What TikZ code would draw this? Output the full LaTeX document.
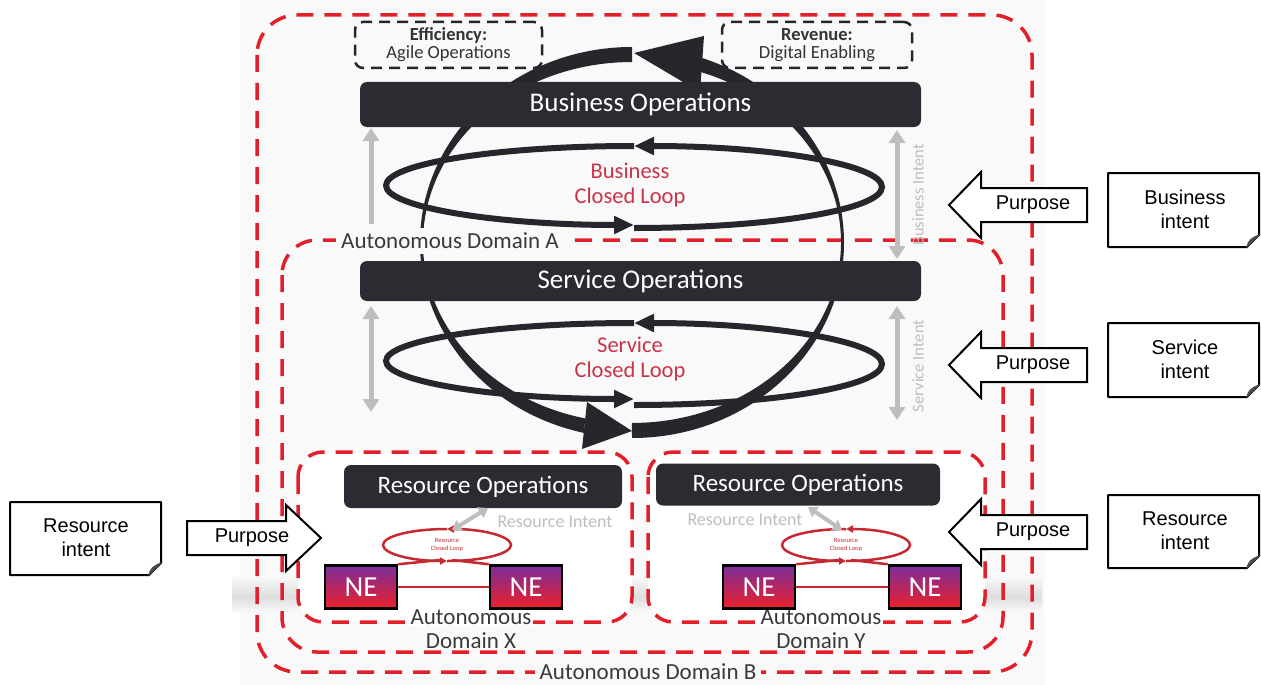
\documentclass[tikz,border=0pt]{standalone}
\usepackage{fontspec}
\setmainfont{Carlito}
\newfontfamily\arialf{Liberation Sans}
\usetikzlibrary{arrows.meta}
\definecolor{bgpanel}{HTML}{F9F9F9}
\definecolor{boxdark}{HTML}{2A2C31}
\definecolor{domred}{HTML}{E2202C}
\definecolor{looptext}{HTML}{C93449}
\definecolor{intgray}{HTML}{BEBEBE}
\definecolor{loopblack}{HTML}{25272C}
\definecolor{nepurple}{HTML}{7A2E9C}
\definecolor{nered}{HTML}{EE1F28}
\definecolor{rloop}{HTML}{C42A30}
\definecolor{labgray}{HTML}{3A3A3A}
\begin{document}
\begin{tikzpicture}[x=1pt,y=-1pt,
  domrect/.style={draw=domred, line width=3.5pt, dash pattern=on 17pt off 11pt, rounded corners=#1},
  goalbox/.style={draw=black!85, line width=2.5pt, dash pattern=on 11pt off 7pt, rounded corners=8pt, align=center, font=\fontsize{18.5}{18}\selectfont, text=black!80, inner sep=0pt},
  opbox/.style={fill=boxdark, rounded corners=7pt, text=white, inner sep=0pt},
  intarr/.style={draw=intgray, line width=5pt, -{Triangle[length=13pt,width=16pt]}},
  intarrd/.style={draw=intgray, line width=5pt, {Triangle[length=13pt,width=16pt]}-{Triangle[length=13pt,width=16pt]}},
  intarrs/.style={draw=intgray, line width=4pt, {Triangle[length=9pt,width=12pt]}-{Triangle[length=9pt,width=12pt]}},
  cloopline/.style={draw=loopblack, line width=6pt, -{Triangle[length=20pt,width=17pt]}},
  looplab/.style={text=looptext, align=center, font=\fontsize{22.5}{25}\selectfont},
  domlab/.style={text=labgray, font=\fontsize{23}{24}\selectfont, fill=bgpanel, inner sep=5pt},
  intlab/.style={text=intgray, font=\fontsize{16.5}{18}\selectfont},
  nebox/.style={draw=black, line width=2.5pt, top color=nepurple, bottom color=nered, text=white, font=\fontsize{29}{29}\selectfont, minimum width=72pt, minimum height=43pt, inner sep=0pt},
  rloopline/.style={draw=rloop, line width=2.5pt},
  rtip/.style={-{Triangle[length=7pt,width=7pt]}},
  notebox/.style={draw=black, line width=2pt, fill=white, line join=round},
  notetext/.style={font=\arialf\fontsize{20}{24}\selectfont, align=center},
  purp/.style={draw=black, line width=2pt, fill=white, line join=miter},
  purptext/.style={font=\arialf\fontsize{20}{22}\selectfont}
]
\useasboundingbox (0,0) rectangle (1261,685);
% panel
\fill[bgpanel] (240,0) rectangle (1045,685);
% soft shadow band under lower domains
\shade[top color=bgpanel, bottom color=black!13] (232,576) rectangle (1042,597);
\shade[top color=black!13, bottom color=bgpanel] (232,597) rectangle (1042,612);

% domain frames
\draw[domrect=40pt] (257,15) rectangle (1032,672);
\draw[domrect=35pt] (282,240) rectangle (1003,652);
\draw[domrect=25pt, fill=white] (298,452) rectangle (632,622);
\draw[domrect=25pt, fill=white] (648,452) rectangle (985,622);

% goal boxes
\node[goalbox, minimum width=187pt, minimum height=46pt] (eff) at (448.5,45) {\textbf{Efficiency:}\\Agile Operations};
\node[goalbox, minimum width=190pt, minimum height=46pt] (rev) at (817,45) {\textbf{Revenue:}\\Digital Enabling};

% operation boxes (positions)
\coordinate (boc) at (640.5,104.5);
\coordinate (soc) at (640.5,281);

% intent arrows (gray)
\coordinate (bl1) at (371,224); \coordinate (bl2) at (371,128);
\coordinate (br1) at (897,130); \coordinate (br2) at (897,259);
\coordinate (sl1) at (371,306); \coordinate (sl2) at (371,412);
\coordinate (sr1) at (897,306); \coordinate (sr2) at (897,420);
\draw[intarr] (bl1) -- (bl2);
\draw[intarrd] (br1) -- (br2);
\draw[intarrd] (sl1) -- (sl2);
\draw[intarrd] (sr1) -- (sr2);
\node[intlab, rotate=90] (bint) at (918,195) {Business Intent};
\node[intlab, rotate=90] (sint) at (918,366) {Service Intent};

% globe (big arcs)
\fill[loopblack] (632,47) arc[start angle=270, end angle=103, x radius=212, y radius=195.5]
  -- (585,418.4) arc[start angle=103, end angle=270, x radius=209, y radius=180.5] -- cycle;
\fill[loopblack] (632,431) -- (587,402) -- (582,449) -- cycle;
\fill[loopblack] (632,438) arc[start angle=90, end angle=-71, x radius=212, y radius=195.5]
  -- (700,71.8) arc[start angle=-71, end angle=90, x radius=209, y radius=180.5] -- cycle;
\fill[loopblack] (634,53) -- (704,36) -- (700,92) -- cycle;

% closed loops
\coordinate (bloopR) at (634,228);
\coordinate (bloopL) at (634,146);
\draw[cloopline] (bloopR) arc[start angle=90, end angle=-90, x radius=248, y radius=41];
\draw[cloopline] (bloopL) arc[start angle=270, end angle=90, x radius=248, y radius=39.5];
\coordinate (sloopR) at (634,405);
\coordinate (sloopL) at (634,323);
\draw[cloopline] (sloopR) arc[start angle=90, end angle=-90, x radius=248, y radius=41];
\draw[cloopline] (sloopL) arc[start angle=270, end angle=90, x radius=248, y radius=38];
\node[looplab] (blab) at (630,185) {Business\\Closed Loop};
\node[looplab] (slab) at (630,359) {Service\\Closed Loop};

% operation boxes
\node[opbox, minimum width=561pt, minimum height=45pt, font=\fontsize{27}{27}\selectfont] (bo) at (boc) {Business Operations};
\node[opbox, minimum width=561pt, minimum height=40pt, font=\fontsize{27}{27}\selectfont] (so) at (soc) {Service Operations};
\node[opbox, minimum width=278pt, minimum height=43pt, font=\fontsize{25}{25}\selectfont] (rox) at (483,486.5) {Resource Operations};
\node[opbox, minimum width=284pt, minimum height=42pt, font=\fontsize{25}{25}\selectfont] (roy) at (798,484.5) {Resource Operations};

% domain labels
\node[domlab] (labA) at (450,241) {Autonomous Domain A};
\node[domlab] (labB) at (648,672) {Autonomous Domain B};
\node[domlab, fill=white, inner sep=2pt] (labXa) at (471,617) {Autonomous};
\node[text=labgray, font=\fontsize{23}{24}\selectfont] (labXb) at (471,641) {Domain X};
\node[domlab, fill=white, inner sep=2pt] (labYa) at (821,617) {Autonomous};
\node[text=labgray, font=\fontsize{23}{24}\selectfont] (labYb) at (821,641) {Domain Y};

% resource domain X
\node[nebox] (nex1) at (361,587) {NE};
\node[nebox] (nex2) at (526,587) {NE};
\coordinate (rlxb) at (447,561);
\coordinate (rlxt) at (447,529);
\draw[rloopline, rtip] (rlxb) arc[start angle=90, end angle=-90, x radius=64, y radius=16];
\draw[rloopline, rtip] (rlxt) arc[start angle=270, end angle=90, x radius=64, y radius=16];
\node[text=rloop, font=\fontsize{6.5}{8}\selectfont, align=center] (rlxlab) at (447,545) {Resource\\Closed Loop};
\coordinate (rlxin1) at (440,560); \coordinate (rlxin2) at (452,560);
\draw[rloopline] (nex1.north east) -- (rlxin1);
\draw[rloopline] (nex2.north west) -- (rlxin2);
\draw[rloopline] (nex1.east) -- (nex2.west);
\coordinate (rix1) at (452,530); \coordinate (rix2) at (488,508);
\draw[intarrs] (rix1) -- (rix2);
\node[intlab, font=\fontsize{18}{18}\selectfont] (rixlab) at (555,522) {Resource Intent};

% resource domain Y
\node[nebox] (ney1) at (759,587) {NE};
\node[nebox] (ney2) at (925,587) {NE};
\coordinate (rlyb) at (846,561);
\coordinate (rlyt) at (846,529);
\draw[rloopline, rtip] (rlyb) arc[start angle=90, end angle=-90, x radius=64, y radius=16];
\draw[rloopline, rtip] (rlyt) arc[start angle=270, end angle=90, x radius=64, y radius=16];
\node[text=rloop, font=\fontsize{6.5}{8}\selectfont, align=center] (rlylab) at (846,545) {Resource\\Closed Loop};
\coordinate (rlyin1) at (839,560); \coordinate (rlyin2) at (851,560);
\draw[rloopline] (ney1.north east) -- (rlyin1);
\draw[rloopline] (ney2.north west) -- (rlyin2);
\draw[rloopline] (ney1.east) -- (ney2.west);
\coordinate (riy1) at (808,507); \coordinate (riy2) at (842,530);
\draw[intarrs] (riy1) -- (riy2);
\node[intlab, font=\fontsize{18}{18}\selectfont] (riylab) at (745,520) {Resource Intent};

% purpose arrows
\draw[purp] (949,205) -- (981,172) -- (981,188) -- (1087,188) -- (1087,222) -- (981,222) -- (981,238) -- cycle;
\node[purptext] (pb) at (1033,205) {Purpose};
\draw[purp] (949,365) -- (981,332) -- (981,348) -- (1087,348) -- (1087,382) -- (981,382) -- (981,398) -- cycle;
\node[purptext] (ps) at (1033,365) {Purpose};
\draw[purp] (949,532) -- (981,499) -- (981,515) -- (1087,515) -- (1087,549) -- (981,549) -- (981,565) -- cycle;
\node[purptext] (pry) at (1033,532) {Purpose};
\draw[purp] (321,538) -- (286,505) -- (286,521) -- (187,521) -- (187,555) -- (286,555) -- (286,571) -- cycle;
\node[purptext] (prx) at (252,538) {Purpose};

% intent notes
\draw[notebox] (1108,173) -- (1259,173) -- (1259,235) -- (1247,247) -- (1108,247) -- cycle;
\filldraw[black!70, line width=1pt] (1259,235) -- (1247,247) .. controls (1248,241) and (1251,238) .. cycle;
\node[notetext] (nb) at (1185,209) {Business\\intent};
\draw[notebox] (1108,323) -- (1259,323) -- (1259,385) -- (1247,397) -- (1108,397) -- cycle;
\filldraw[black!70, line width=1pt] (1259,385) -- (1247,397) .. controls (1248,391) and (1251,388) .. cycle;
\node[notetext] (ns) at (1185,359) {Service\\intent};
\draw[notebox] (1108,495) -- (1259,495) -- (1259,556) -- (1247,568) -- (1108,568) -- cycle;
\filldraw[black!70, line width=1pt] (1259,556) -- (1247,568) .. controls (1248,562) and (1251,559) .. cycle;
\node[notetext] (nry) at (1185,531) {Resource\\intent};
\draw[notebox] (10,502) -- (161,502) -- (161,563) -- (149,575) -- (10,575) -- cycle;
\filldraw[black!70, line width=1pt] (161,563) -- (149,575) .. controls (150,569) and (153,566) .. cycle;
\node[notetext] (nrx) at (86,538) {Resource\\intent};
\end{tikzpicture}
\end{document}
